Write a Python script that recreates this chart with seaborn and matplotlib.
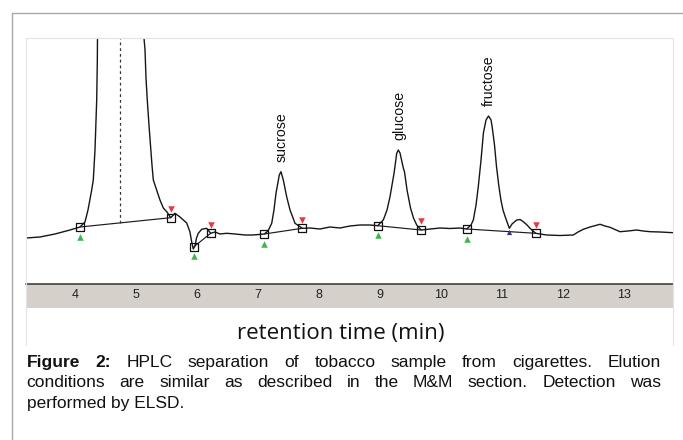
import numpy as np
import pandas as pd
import seaborn as sns
import matplotlib
matplotlib.use("Agg")
import matplotlib.pyplot as plt
import matplotlib.transforms as mtransforms
from matplotlib.lines import Line2D
from matplotlib.patches import Rectangle
from matplotlib.ticker import MultipleLocator

# ELSD trace (retention time in min, detector signal in arbitrary units)
time_min = [3.197, 3.426, 3.672, 3.918, 4.082, 4.164, 4.213, 4.274, 4.300, 4.328, 4.344, 4.356,
            4.366, 4.369, 4.370, 4.738, 5.123, 5.131, 5.148, 5.164, 5.185, 5.213, 5.238, 5.262,
            5.284, 5.339, 5.393, 5.448, 5.508, 5.569, 5.639, 5.721, 5.831, 5.885, 5.913, 5.939,
            5.967, 5.992, 6.021, 6.077, 6.159, 6.225, 6.295, 6.377, 6.487, 6.623, 6.787, 6.918,
            7.103, 7.164, 7.225, 7.262, 7.295, 7.349, 7.377, 7.415, 7.470, 7.525, 7.607, 7.726,
            7.852, 8.016, 8.180, 8.344, 8.508, 8.672, 8.836, 8.962, 9.054, 9.115, 9.164, 9.230,
            9.274, 9.300, 9.328, 9.382, 9.402, 9.443, 9.500, 9.549, 9.602, 9.672, 9.820, 9.984,
            10.148, 10.311, 10.421, 10.492, 10.530, 10.574, 10.611, 10.656, 10.695, 10.738, 10.779,
            10.820, 10.839, 10.877, 10.910, 10.946, 10.982, 11.016, 11.052, 11.120, 11.164, 11.241,
            11.295, 11.349, 11.410, 11.459, 11.552, 11.623, 11.733, 11.951, 12.169, 12.246, 12.333,
            12.443, 12.607, 12.689, 12.770, 12.934, 13.066, 13.208, 13.311, 13.430, 13.590, 13.808]
signal = [46, 47, 50, 54, 57, 62, 74, 94, 104, 134, 164, 184,
          222, 246, 254, 600, 254, 246, 234, 206, 184, 159, 139, 119,
          104, 94, 84, 76, 72, 66.3, 70.7, 67, 61, 52, 42, 35,
          38, 46, 50.7, 54.7, 55.7, 50.7, 52, 50, 50.7, 50, 49, 49,
          50, 53, 60.7, 74, 90.7, 109, 112.3, 104, 87.3, 74, 60.7, 55.7,
          56, 55, 57, 56, 58, 59, 59, 58.3, 64, 74, 87.3, 110.7,
          130.7, 134, 131, 116, 112, 94, 76, 66, 59, 54, 55, 56,
          55.5, 56, 55, 59, 64, 79, 97.3, 124, 151, 164, 168,
          164, 157, 139, 117.3, 99, 84, 74, 67.3, 55.7, 60, 64,
          64.5, 62.3, 59, 55.7, 50.7, 50, 49, 48.5, 49, 52, 54.7,
          57, 59.7, 58, 56.7, 52.3, 53, 54, 53, 52.3, 52, 51.3]

# integration start / end points
start_t = [4.082, 5.950, 7.103, 8.962, 10.421]
start_s = [57, 37.3, 50, 58.3, 55]
end_t = [5.569, 6.225, 7.726, 9.672, 11.552]
end_s = [66.3, 50.7, 55.7, 54, 50.7]
split_t = [11.120]
split_s = [52.3]
void_t = 4.738

peak_names = ["sucrose", "glucose", "fructose"]
peak_t = [7.377, 9.300, 10.779]
peak_s = [112.3, 134, 168]

x_ticks = [4, 5, 6, 7, 8, 9, 10, 11, 12, 13]

caption_lines = [
    [("Figure", True), ("2:", True), ("HPLC", False), ("separation", False), ("of", False),
     ("tobacco", False), ("sample", False), ("from", False), ("cigarettes.", False), ("Elution", False)],
    [("conditions", False), ("are", False), ("similar", False), ("as", False), ("described", False),
     ("in", False), ("the", False), ("M&M", False), ("section.", False), ("Detection", False), ("was", False)],
    [("performed by ELSD.", False)],
]

sns.set_theme(style="white")
plt.rcParams['font.family'] = ['Liberation Sans', 'DejaVu Sans']

W, H = 683, 440
fig = plt.figure(figsize=(W / 100, H / 100), dpi=100)
fig.patch.set_facecolor("white")


def fx(px):
    return px / W


def fy(py):
    return 1 - py / H


ax = fig.add_axes([fx(26), fy(284), fx(673) - fx(26), fy(38) - fy(284)])

trace = pd.DataFrame({"t": time_min, "s": signal})
sns.lineplot(data=trace, x="t", y="s", ax=ax, color="#161616", lw=1.0, sort=False, estimator=None)

# integration baselines
for i in range(len(start_t)):
    sns.lineplot(x=[start_t[i], end_t[i]], y=[start_s[i], end_s[i]], ax=ax,
                 color="#1c1c1c", lw=0.85, sort=False, estimator=None)

# dashed drop line of the solvent front
ymax = 246
void_base = np.interp(void_t, [start_t[0], end_t[0]], [start_s[0], end_s[0]])
ax.plot([void_t, void_t], [void_base, ymax], color="#333333", lw=0.9, dashes=(2.2, 2.4))

# peak markers
sns.scatterplot(x=start_t + end_t, y=start_s + end_s, ax=ax, marker="s", s=34,
                facecolor="none", edgecolor="#111111", linewidth=0.9, zorder=4)
down = mtransforms.ScaledTranslation(0, -9.5 / 100, fig.dpi_scale_trans)
up = mtransforms.ScaledTranslation(0, 8.6 / 100, fig.dpi_scale_trans)
sns.scatterplot(x=start_t, y=start_s, ax=ax, marker="^", s=22, color="#3db54a",
                linewidth=0, transform=ax.transData + down, zorder=4)
sns.scatterplot(x=end_t, y=end_s, ax=ax, marker="v", s=22, color="#e23b3b",
                linewidth=0, transform=ax.transData + up, zorder=4)
sns.scatterplot(x=split_t, y=split_s, ax=ax, marker="^", s=14, color="#34347e",
                linewidth=0, zorder=4)

for name, t, s in zip(peak_names, peak_t, peak_s):
    ax.annotate(name, xy=(t, s), xytext=(0.5, 7.2), textcoords="offset points",
                rotation=90, ha="center", va="bottom", fontsize=10.2, color="#111111")

ax.set_xlim(3.197, 13.803)
ax.set_ylim(0, ymax)
ax.set_xticks(x_ticks)
ax.set_xticklabels([str(v) for v in x_ticks])
ax.xaxis.set_minor_locator(MultipleLocator(0.2))
ax.set_yticks([])
ax.set_xlabel("")
ax.set_ylabel("")
ax.tick_params(axis="x", which="major", direction="in", length=3.2, width=0.8,
               color="#333333", labelsize=9, pad=3.3, labelcolor="#222222")
ax.tick_params(axis="x", which="minor", direction="in", length=1.6, width=0.6, color="#333333")
for side in ["top", "left", "right"]:
    ax.spines[side].set_visible(False)
ax.spines["bottom"].set_color("#333333")
ax.spines["bottom"].set_linewidth(1.1)

# grey axis band and faint frame of the pasted chart
fig.add_artist(Rectangle((fx(26), fy(308)), fx(673) - fx(26), fy(284) - fy(308),
                         transform=fig.transFigure, facecolor="#d5d0ca", edgecolor="none", zorder=-1))
frame_c = "#e3e3e3"
fig.add_artist(Line2D([fx(26), fx(673)], [fy(38), fy(38)], color=frame_c, lw=0.8))
fig.add_artist(Line2D([fx(26), fx(26)], [fy(38), fy(345)], color=frame_c, lw=0.8))
fig.add_artist(Line2D([fx(673), fx(673)], [fy(38), fy(345)], color=frame_c, lw=0.8))

# outer page frame
fig.add_artist(Line2D([fx(11.7), 1], [fy(12.7), fy(12.7)], color="#a8a8a8", lw=1.0))
fig.add_artist(Line2D([fx(11.7), fx(11.7)], [fy(12.7), 0], color="#a8a8a8", lw=1.0))

fig.text(fx(341), fy(339), "retention time (min)", ha="center", va="baseline",
         fontsize=16, family=["Open Sans", "DejaVu Sans"], color="#111111")

# justified caption
renderer = fig.canvas.get_renderer()
left, right = 26.7, 661
baselines = [366.7, 387.3, 408.3]
for li, (words, base) in enumerate(zip(caption_lines, baselines)):
    texts = []
    for word, bold in words:
        txt = fig.text(0, fy(base), word, ha="left", va="baseline", fontsize=12.5,
                       fontweight="bold" if bold else "normal", color="#111111")
        texts.append(txt)
    widths = [t.get_window_extent(renderer).width for t in texts]
    if len(texts) > 1:
        gap = (right - left - sum(widths)) / (len(texts) - 1)
    else:
        gap = 0
    x = left
    for t, w in zip(texts, widths):
        t.set_x(fx(x))
        x += w + gap

fig.savefig("out.png", dpi=100)
